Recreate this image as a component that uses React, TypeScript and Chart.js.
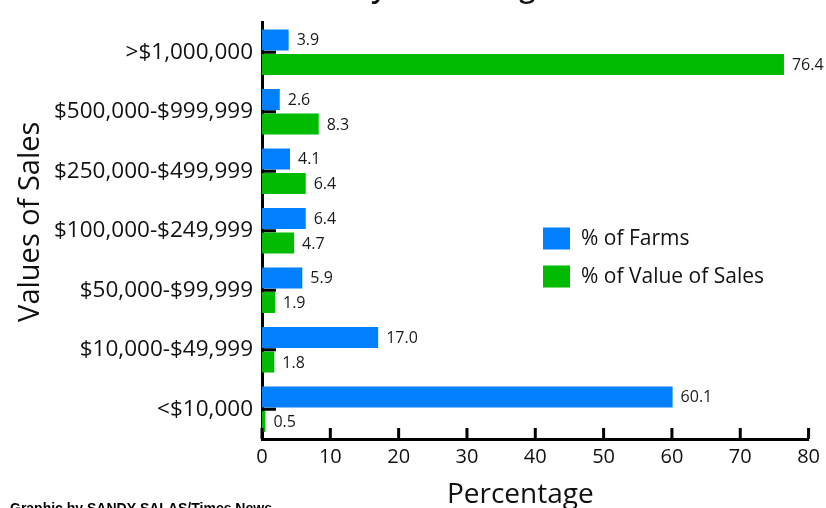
import React, { useEffect, useRef } from "react";
import { Chart, registerables } from "chart.js";

Chart.register(...registerables);

const categories = [
  ">$1,000,000",
  "$500,000-$999,999",
  "$250,000-$499,999",
  "$100,000-$249,999",
  "$50,000-$99,999",
  "$10,000-$49,999",
  "<$10,000",
];
const farmsPct = [3.9, 2.6, 4.1, 6.4, 5.9, 17.0, 60.1];
const salesPct = [76.4, 8.3, 6.4, 4.7, 1.9, 1.8, 0.5];
const seriesNames = ["% of Farms", "% of Value of Sales"];
const seriesColors = ["#0080FF", "#00BB00"];
const xTicks = [0, 10, 20, 30, 40, 50, 60, 70, 80];
const titleText = "Farm Sales by Percentage";
const xTitle = "Percentage";
const yTitle = "Values of Sales";
const credit = "Graphic by SANDY SALAS/Times News";

const FONT = "'Open Sans', 'Noto Sans', sans-serif";

const decorPlugin = {
  id: "decor",
  afterDatasetsDraw(chart: any) {
    const { ctx, chartArea, scales } = chart;
    const x = scales.x;
    const y = scales.y;
    ctx.save();
    // value labels
    ctx.fillStyle = "#1a1a1a";
    ctx.font = `16px ${FONT}`;
    ctx.textAlign = "left";
    ctx.textBaseline = "middle";
    chart.data.datasets.forEach((ds: any, di: number) => {
      const meta = chart.getDatasetMeta(di);
      meta.data.forEach((bar: any, i: number) => {
        ctx.fillText(Number(ds.data[i]).toFixed(1), bar.x + 8, bar.y + 1);
      });
    });
    // inside tick marks
    ctx.strokeStyle = "#000";
    ctx.lineWidth = 3;
    ctx.beginPath();
    x.ticks.forEach((_t: any, i: number) => {
      const px = x.getPixelForTick(i);
      ctx.moveTo(px, chartArea.bottom);
      ctx.lineTo(px, chartArea.bottom - 11);
    });
    y.ticks.forEach((_t: any, i: number) => {
      const py = y.getPixelForTick(i);
      ctx.moveTo(chartArea.left, py);
      ctx.lineTo(chartArea.left + 14, py);
    });
    ctx.stroke();
    // legend
    const lx = chartArea.left + 281;
    const ly = chartArea.top + 205;
    seriesNames.forEach((name, i) => {
      const yy = ly + i * 38;
      ctx.fillStyle = seriesColors[i];
      ctx.fillRect(lx, yy, 27, 22);
      ctx.fillStyle = "#111";
      ctx.font = `21px ${FONT}`;
      ctx.textBaseline = "middle";
      ctx.fillText(name, lx + 38, yy + 12);
    });
    // axis titles
    ctx.fillStyle = "#111";
    ctx.font = `28px ${FONT}`;
    ctx.textAlign = "center";
    ctx.textBaseline = "alphabetic";
    ctx.fillText(xTitle, (chartArea.left + chartArea.right) / 2 - 15, chart.height - 5);
    ctx.save();
    ctx.translate(39, (chartArea.top + chartArea.bottom) / 2 - 9);
    ctx.rotate(-Math.PI / 2);
    ctx.font = `29px ${FONT}`;
    ctx.fillText(yTitle, 0, 0);
    ctx.restore();
    // clipped title
    ctx.font = `600 29px ${FONT}`;
    ctx.textAlign = "left";
    const pre = ctx.measureText("Farm Sales b").width;
    const yw = ctx.measureText("y").width;
    ctx.fillText(titleText, 379 - pre - yw / 2, -3);
    // credit
    ctx.font = `900 14px 'Liberation Sans Narrow', 'Liberation Sans', sans-serif`;
    ctx.textBaseline = "top";
    ctx.fillStyle = "#000";
    ctx.fillText(credit, 10, 502);
    ctx.restore();
  },
};

export default function App() {
  const ref = useRef<HTMLCanvasElement | null>(null);
  useEffect(() => {
    if (!ref.current) return;
    const chart = new Chart(ref.current, {
      type: "bar",
      data: {
        labels: categories,
        datasets: [
          {
            label: seriesNames[0],
            data: farmsPct,
            backgroundColor: seriesColors[0],
            categoryPercentage: 0.83,
            barPercentage: 0.85,
          },
          {
            label: seriesNames[1],
            data: salesPct,
            backgroundColor: seriesColors[1],
            categoryPercentage: 0.83,
            barPercentage: 0.85,
          },
        ],
      },
      options: {
        indexAxis: "y",
        animation: false,
        responsive: false,
        maintainAspectRatio: false,
        layout: { padding: { top: 19, right: 16, left: 0, bottom: 0 } },
        plugins: {
          legend: { display: false },
          tooltip: { enabled: false },
          title: { display: false },
        },
        scales: {
          x: {
            type: "linear",
            min: 0,
            max: 80,
            afterBuildTicks: (s: any) => {
              s.ticks = xTicks.map((v) => ({ value: v }));
            },
            grid: { display: false, drawTicks: false },
            border: { display: true, color: "#000", width: 3 },
            ticks: {
              color: "#111",
              font: { family: FONT, size: 20 },
              padding: 6,
              maxRotation: 0,
            },
            afterFit: (s: any) => {
              s.height = 69;
            },
          },
          y: {
            type: "category",
            grid: { display: false, drawTicks: false },
            border: { display: true, color: "#000", width: 3 },
            ticks: {
              color: "#111",
              font: { family: FONT, size: 22.5 },
              padding: 9,
            },
            afterFit: (s: any) => {
              s.width = 262;
            },
          },
        },
      },
      plugins: [decorPlugin],
    } as any);
    return () => chart.destroy();
  }, []);
  return (
    <div style={{ position: "fixed", left: 0, top: 0, width: 826, height: 508, background: "#fff" }}>
      <canvas ref={ref} width={826} height={508} style={{ width: 826, height: 508 }} />
    </div>
  );
}
